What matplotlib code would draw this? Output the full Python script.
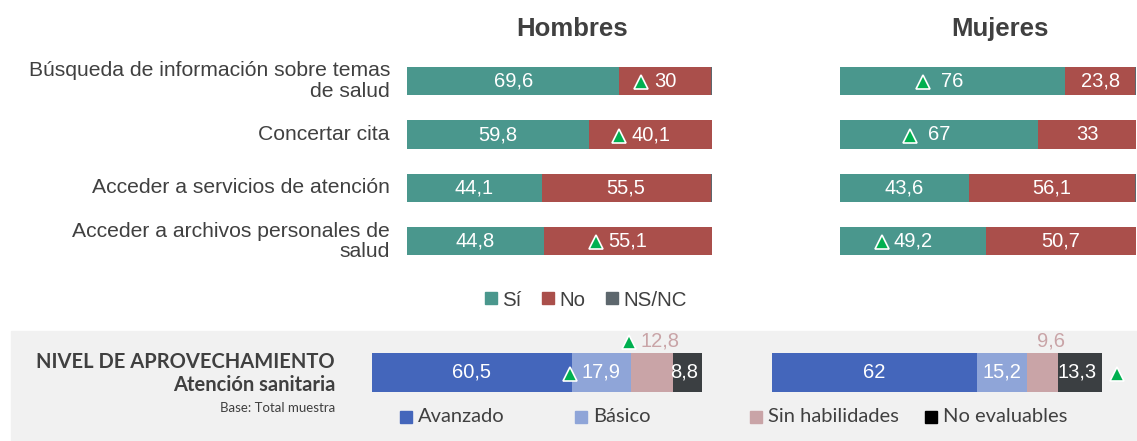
import matplotlib
matplotlib.use("Agg")
import matplotlib.pyplot as plt  # noqa: E402
from matplotlib.lines import Line2D  # noqa: E402
from matplotlib.patches import Rectangle  # noqa: E402
from matplotlib.transforms import offset_copy  # noqa: E402

W, H = 1137, 441

categorias = [
    "Búsqueda de información sobre temas\nde salud",
    "Concertar cita",
    "Acceder a servicios de atención",
    "Acceder a archivos personales de\nsalud",
]
hombres_si = [69.6, 59.8, 44.1, 44.8]
hombres_no = [30, 40.1, 55.5, 55.1]
hombres_nsnc = [0.4, 0.1, 0.4, 0.1]
mujeres_si = [76, 67, 43.6, 49.2]
mujeres_no = [23.8, 33, 56.1, 50.7]
mujeres_nsnc = [0.2, 0, 0.3, 0.1]

# subidas significativas (triángulo verde junto a la etiqueta)
hombres_si_sube = [False, False, False, False]
hombres_no_sube = [True, True, False, True]
mujeres_si_sube = [True, True, False, True]
mujeres_no_sube = [False, False, False, False]

niveles = ["Avanzado", "Básico", "Sin habilidades", "No evaluables"]
nivel_hombres = [60.5, 17.9, 12.8, 8.8]
nivel_mujeres = [62, 15.2, 9.6, 13.3]
nivel_hombres_sube = [False, True, True, False]
nivel_mujeres_sube = [False, False, False, True]
# etiquetas que van encima de la barra
nivel_arriba = [False, False, True, False]

C_SI, C_NO, C_NS = "#4a978d", "#aa4f4b", "#5d676d"
C_NIV = ["#4466bb", "#8fa5d8", "#c9a4a7", "#3b3f42"]
VERDE = "#00b050"
GRIS_TXT = "#404040"
NUM = "Liberation Sans"
LAT = "Lato"


def px_axes(fig, x0, y0, x1, y1):
    """Ejes colocados con coordenadas en píxeles (origen arriba a la izquierda)."""
    return fig.add_axes([x0 / W, 1 - y1 / H, (x1 - x0) / W, (y1 - y0) / H])


def fmt(v):
    return f"{v:g}".replace(".", ",")


def triangulo(ax, x, y, dx):
    tr = offset_copy(ax.transData, fig=ax.figure, x=dx, y=-1, units="dots")
    ax.plot([x], [y], marker="^", ms=10.5, color=VERDE, mec="white", mew=1.2,
            transform=tr, clip_on=False, zorder=5)


def etiqueta(ax, x, y, v, sube, color="white", dy=0):
    txt = fmt(v)
    ax.text(x, y + dy, txt, ha="center", va="center", color=color,
            fontsize=14.5, family=NUM, zorder=4)
    if sube:
        ancho = sum(4.6 if c == "," else 9.3 for c in txt)
        triangulo(ax, x, y + dy, -max(ancho / 2 + 15, 29 if len(txt) == 2 and x < 50 else 0))


def panel_si_no(ax, si, no, nsnc, si_sube, no_sube):
    ys = range(len(si))
    ax.barh(ys, si, height=0.53, color=C_SI, edgecolor="none")
    ax.barh(ys, no, left=si, height=0.53, color=C_NO, edgecolor="none")
    izq = [a + b for a, b in zip(si, no)]
    ax.barh(ys, nsnc, left=izq, height=0.53, color=C_NS, edgecolor="none")
    for i in ys:
        etiqueta(ax, si[i] / 2, i, si[i], si_sube[i])
        etiqueta(ax, si[i] + no[i] / 2, i, no[i], no_sube[i])
    ax.set_xlim(0, 100)
    ax.set_ylim(len(si) - 0.5, -0.5)
    ax.axis("off")


def panel_nivel(ax, vals, sube):
    izq = 0
    for k, v in enumerate(vals):
        ax.barh([0], [v], left=izq, height=0.7, color=C_NIV[k], edgecolor="none")
        if nivel_arriba[k]:
            etiqueta(ax, izq + v / 2 + 2.5, 0, v, sube[k], color=C_NIV[2], dy=-0.58)
        elif k == len(vals) - 1:
            # la subida del último tramo se marca a la derecha de la barra
            etiqueta(ax, izq + v / 2 - 1, 0, v, False)
            if sube[k]:
                triangulo(ax, 100, 0, 15)
        else:
            etiqueta(ax, izq + v / 2, 0, v, sube[k])
        izq += v
    ax.set_xlim(0, 100)
    ax.set_ylim(0.5, -0.5)
    ax.axis("off")


fig = plt.figure(figsize=(W / 100, H / 100), dpi=100)

# fondo gris del bloque inferior
fig.patches.append(Rectangle((11 / W, 0), 1 - 11 / W, (H - 331) / H,
                             transform=fig.transFigure, color="#f1f1f1", zorder=-1))

ax_h = px_axes(fig, 407, 54.5, 712, 268)
ax_m = px_axes(fig, 840, 54.5, 1136, 268)
panel_si_no(ax_h, hombres_si, hombres_no, hombres_nsnc, hombres_si_sube, hombres_no_sube)
panel_si_no(ax_m, mujeres_si, mujeres_no, mujeres_nsnc, mujeres_si_sube, mujeres_no_sube)

for ax, titulo in ((ax_h, "Hombres"), (ax_m, "Mujeres")):
    ax.text(0.54, 1.12, titulo, transform=ax.transAxes, ha="center", va="center",
            fontsize=18.5, fontweight="bold", family=NUM, color=GRIS_TXT)

for i, cat in enumerate(categorias):
    ax_h.text(-5.6, i, cat, ha="right", va="center", fontsize=15.2, family=NUM,
              color=GRIS_TXT, linespacing=1.1)

fig.legend(handles=[Line2D([], [], ls="", marker="s", ms=9, color=c) for c in (C_SI, C_NO, C_NS)],
           labels=["Sí", "No", "NS/NC"], loc="center", bbox_to_anchor=(586 / W, 1 - 300 / H),
           ncol=3, frameon=False, handlelength=0.6, handletextpad=0.25, columnspacing=1.0,
           prop={"family": NUM, "size": 14.8}, labelcolor=GRIS_TXT)

# bloque inferior: nivel de aprovechamiento
ax_nh = px_axes(fig, 372, 345, 702, 400)
ax_nm = px_axes(fig, 772, 345, 1102, 400)
panel_nivel(ax_nh, nivel_hombres, nivel_hombres_sube)
panel_nivel(ax_nm, nivel_mujeres, nivel_mujeres_sube)

fig.text(335 / W, 1 - 362 / H, "NIVEL DE APROVECHAMIENTO", ha="right", va="center",
         fontsize=14.5, fontweight="bold", family=LAT, color=GRIS_TXT)
fig.text(335 / W, 1 - 385 / H, "Atención sanitaria", ha="right", va="center",
         fontsize=14.5, fontweight="bold", family=LAT, color=GRIS_TXT)
fig.text(335 / W, 1 - 408 / H, "Base: Total muestra", ha="right", va="center",
         fontsize=9.5, family=LAT, color=GRIS_TXT)

for k, nom in enumerate(niveles):
    x = 406 + k * 175
    fig.lines.append(Line2D([x / W], [1 - 417 / H], ls="", marker="s", ms=8,
                            color=C_NIV[k] if k != 3 else "black",
                            transform=fig.transFigure))
    fig.text((x + 12) / W, 1 - 417 / H, nom, ha="left", va="center",
             fontsize=14.5, family=LAT, color=GRIS_TXT)

fig.savefig("out.png", dpi=100)
